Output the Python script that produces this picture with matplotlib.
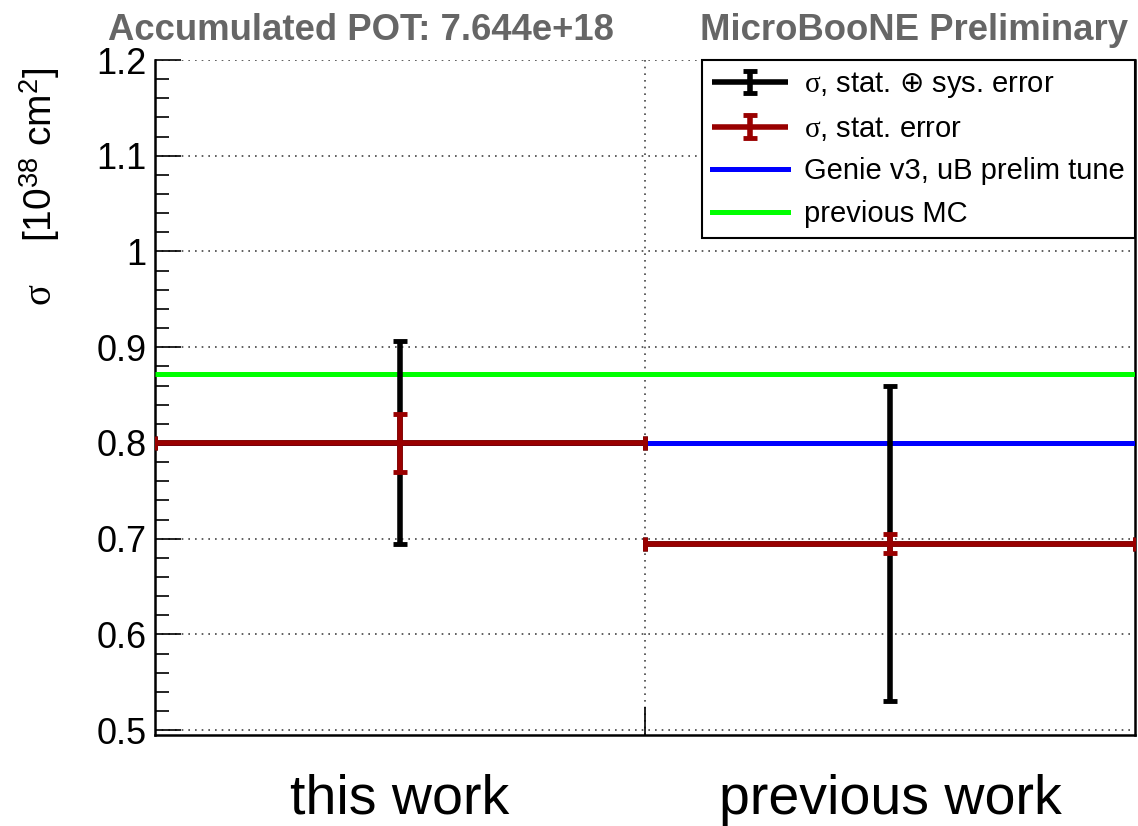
import matplotlib
matplotlib.use('Agg')
import matplotlib.pyplot as plt
import numpy as np
from matplotlib.ticker import MultipleLocator, FuncFormatter
from matplotlib.container import ErrorbarContainer
from matplotlib.legend_handler import HandlerErrorbar
from matplotlib.lines import Line2D

# ---- data ----
categories = ['this work', 'previous work']
bin_edges = [0.0, 1.0, 2.0]
sigma = [0.800, 0.695]
stat_err = [0.030, 0.010]
total_err = [0.106, 0.165]
genie_v3 = [0.800, 0.800]
previous_mc = [0.872, 0.872]
yticks_major = [0.5, 0.6, 0.7, 0.8, 0.9, 1.0, 1.1, 1.2]

plt.rcParams['font.family'] = ['Liberation Sans', 'DejaVu Sans']
plt.rcParams['mathtext.fontset'] = 'custom'
plt.rcParams['mathtext.rm'] = 'Liberation Sans'
plt.rcParams['mathtext.it'] = 'Liberation Serif'
plt.rcParams['mathtext.sf'] = 'DejaVu Sans'
plt.rcParams['mathtext.bf'] = 'Liberation Sans:bold'

W, H = 1138, 826
fig = plt.figure(figsize=(W / 100, H / 100), dpi=100)
ax = fig.add_axes([155 / W, 91 / H, 980 / W, 675 / H])

edges = np.array(bin_edges)
centers = (edges[:-1] + edges[1:]) / 2
half = np.diff(edges) / 2

h_mc = ax.stairs(previous_mc, edges, baseline=None, color='#00ff00', lw=3.6,
                 zorder=3, label='previous MC')
h_genie = ax.stairs(genie_v3, edges, baseline=None, color='#0000ff', lw=3.6,
                    zorder=3, label='Genie v3, uB prelim tune')
h_tot = ax.errorbar(centers, sigma, xerr=half, yerr=total_err, fmt='none',
                    ecolor='black', elinewidth=4, capsize=5, capthick=3.5,
                    zorder=4, label='$\\sigma$, stat. $\\mathsf{\u2295}$ sys. error')
h_stat = ax.errorbar(centers, sigma, xerr=half, yerr=stat_err, fmt='none',
                     ecolor='#990000', elinewidth=4, capsize=5, capthick=3.5,
                     zorder=5, label='$\\sigma$, stat. error')

ax.set_xlim(0, 2)
ax.set_ylim(0.495, 1.2)

ax.set_yticks(yticks_major)
ax.yaxis.set_minor_locator(MultipleLocator(0.02))
ax.yaxis.set_major_formatter(FuncFormatter(lambda v, p: f'{round(v, 3):g}'))
ax.tick_params(axis='y', which='major', direction='in', length=19, width=1.2,
               labelsize=26, pad=6, right=False)
ax.tick_params(axis='y', which='minor', direction='in', length=10, width=1.2,
               right=False)

ax.set_xticks([1.0])
ax.set_xticklabels([''])
ax.set_xticks(centers, labels=categories, minor=True)
ax.tick_params(axis='x', which='major', direction='in', length=20, width=1.2, top=False)
ax.tick_params(axis='x', which='minor', length=0, labelsize=40, pad=28)

ax.grid(which='major', linestyle=(0, (1, 3)), color='#444444', lw=1.2, zorder=1)

ax.spines['top'].set_visible(False)
for s in ['left', 'bottom', 'right']:
    ax.spines[s].set_linewidth(1.8)

ax.set_ylabel(r'$\sigma$    [10$^{38}$ cm$^{2}$]', loc='top', fontsize=28)
ax.yaxis.set_label_coords(-0.095, 0.99)

leg = ax.legend(handles=[h_tot, h_stat, h_genie, h_mc], loc='upper right',
                bbox_to_anchor=(1.0, 1.0), fontsize=21, frameon=True, fancybox=False,
                borderaxespad=0, borderpad=0.35, labelspacing=0.5,
                handlelength=2.6, handletextpad=0.55,
                handler_map={ErrorbarContainer: HandlerErrorbar(xerr_size=1.3, yerr_size=0.38)})
leg.get_frame().set_edgecolor('black')
leg.get_frame().set_linewidth(1.5)
leg.get_frame().set_alpha(1)
leg.set_zorder(10)
for ln in leg.findobj(Line2D):
    if ln.get_marker() == '|':
        ln.set_visible(False)

fig.text(108 / W, 1 - 40 / H, 'Accumulated POT: 7.644e+18', fontsize=26.3,
         fontweight='bold', color='#666666', va='baseline', ha='left')
fig.text(1128 / W, 1 - 40 / H, 'MicroBooNE Preliminary', fontsize=26.3,
         fontweight='bold', color='#666666', va='baseline', ha='right')

fig.savefig('out.png', dpi=100)
